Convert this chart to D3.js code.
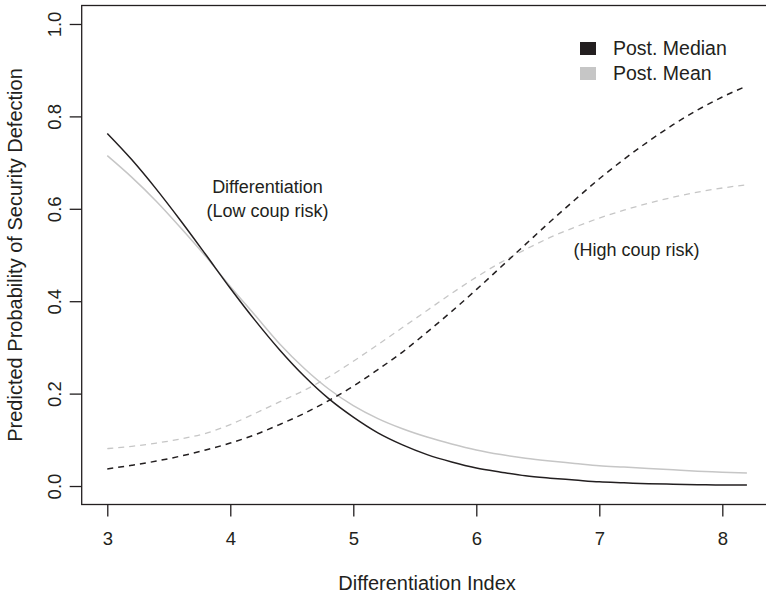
<!DOCTYPE html>
<html>
<head>
<meta charset="utf-8">
<script src="https://cdn.jsdelivr.net/npm/d3@7"></script>
<style>
  html, body { margin: 0; padding: 0; background: #fff; }
  svg { display: block; font-family: "Liberation Sans", Arial, Helvetica, sans-serif; }
</style>
</head>
<body>
<svg id="chart" width="766" height="595"></svg>
<script>
// ---- Data ----
const xValues = [3.0,3.2,3.4,3.6,3.8,4.0,4.2,4.4,4.6,4.8,5.0,5.2,5.4,5.6,5.8,6.0,6.2,6.4,6.6,6.8,7.0,7.2,7.4,7.6,7.8,8.0,8.2];
// Low coup risk, posterior median (solid black)
const lowMedian = [0.763,0.706,0.642,0.573,0.501,0.428,0.359,0.295,0.238,0.189,0.149,0.115,0.089,0.068,0.052,0.039,0.030,0.022,0.017,0.013,0.009,0.007,0.005,0.004,0.003,0.002,0.002];
// Low coup risk, posterior mean (solid gray)
const lowMean = [0.715,0.668,0.616,0.558,0.497,0.432,0.370,0.308,0.255,0.210,0.174,0.146,0.124,0.106,0.091,0.078,0.068,0.060,0.054,0.049,0.044,0.041,0.038,0.035,0.032,0.030,0.028];
// High coup risk, posterior median (dashed black)
const highMedian = [0.037,0.045,0.054,0.065,0.078,0.093,0.111,0.133,0.157,0.185,0.216,0.252,0.290,0.333,0.378,0.425,0.474,0.523,0.572,0.619,0.665,0.707,0.746,0.782,0.814,0.842,0.866];
// High coup risk, posterior mean (dashed gray)
const highMean = [0.081,0.086,0.093,0.102,0.114,0.133,0.157,0.182,0.207,0.236,0.270,0.306,0.343,0.380,0.417,0.452,0.484,0.512,0.538,0.560,0.580,0.597,0.612,0.625,0.636,0.645,0.652];

const xTicks = [3,4,5,6,7,8];
const yTicks = [0,0.2,0.4,0.6,0.8,1.0];
const legendLabels = ["Post. Median","Post. Mean"];
const xTitle = "Differentiation Index";
const yTitle = "Predicted Probability of Security Defection";
const lowLabel = ["Differentiation","(Low coup risk)"];
const highLabel = "(High coup risk)";

// ---- Layout ----
const INK = "#231f20";
const GRAY = "#c6c6c6";
const svg = d3.select("#chart");

const x = d3.scaleLinear().domain([2.792, 8.408]).range([81.7, 772.5]);
const y = d3.scaleLinear().domain([-0.04, 1.04]).range([504.5, 5.5]);

// plot box
svg.append("rect")
  .attr("x", x.range()[0]).attr("y", y.range()[1])
  .attr("width", x.range()[1] - x.range()[0])
  .attr("height", y.range()[0] - y.range()[1])
  .attr("fill", "none").attr("stroke", INK).attr("stroke-width", 1.3);

// x axis
const xAxis = svg.append("g")
  .attr("transform", `translate(0,${y.range()[0]})`)
  .call(d3.axisBottom(x).tickValues(xTicks).tickFormat(d3.format("d")).tickSize(12).tickPadding(15));
xAxis.select(".domain").remove();
xAxis.selectAll("line").attr("stroke", INK).attr("stroke-width", 1.3);
xAxis.selectAll("text").attr("fill", INK).attr("font-size", 18.5).attr("font-family", null);

// y axis (rotated labels)
const yAxis = svg.append("g")
  .attr("transform", `translate(${x.range()[0]},0)`)
  .call(d3.axisLeft(y).tickValues(yTicks).tickFormat(d3.format(".1f")).tickSize(12));
yAxis.select(".domain").remove();
yAxis.selectAll("line").attr("stroke", INK).attr("stroke-width", 1.3);
yAxis.selectAll("text")
  .attr("fill", INK).attr("font-size", 18.5).attr("font-family", null)
  .attr("x", null).attr("dy", null)
  .attr("text-anchor", "middle")
  .attr("transform", "translate(-21,0) rotate(-90)");

// axis titles
svg.append("text")
  .attr("x", (x.range()[0] + x.range()[1]) / 2).attr("y", 590)
  .attr("text-anchor", "middle").attr("font-size", 20).attr("fill", INK)
  .text(xTitle);
svg.append("text")
  .attr("transform", `translate(21.5,${(y.range()[0] + y.range()[1]) / 2}) rotate(-90)`)
  .attr("text-anchor", "middle").attr("font-size", 20).attr("fill", INK)
  .text(yTitle);

// curves
const pts = vals => xValues.map((d, i) => [d, vals[i]]);
const line = d3.line().x(d => x(d[0])).y(d => y(d[1])).curve(d3.curveMonotoneX);
const series = [
  { vals: highMean, color: GRAY, dash: "6,5", w: 1.3 },
  { vals: lowMean, color: GRAY, dash: null, w: 1.5 },
  { vals: highMedian, color: INK, dash: "6,5", w: 1.5 },
  { vals: lowMedian, color: INK, dash: null, w: 1.5 }
];
series.forEach(s => {
  svg.append("path")
    .datum(pts(s.vals))
    .attr("d", line)
    .attr("fill", "none")
    .attr("stroke", s.color)
    .attr("stroke-width", s.w)
    .attr("stroke-dasharray", s.dash);
});

// annotations
svg.append("text").attr("x", 267.5).attr("y", 193)
  .attr("text-anchor", "middle").attr("font-size", 18).attr("fill", INK).text(lowLabel[0]);
svg.append("text").attr("x", 267.5).attr("y", 217)
  .attr("text-anchor", "middle").attr("font-size", 18).attr("fill", INK).text(lowLabel[1]);
svg.append("text").attr("x", 636.5).attr("y", 256)
  .attr("text-anchor", "middle").attr("font-size", 18).attr("fill", INK).text(highLabel);

// legend
const legendColors = [INK, GRAY];
legendLabels.forEach((lab, i) => {
  const cy = 48.5 + i * 25;
  svg.append("rect").attr("x", 580).attr("y", cy - 6.5)
    .attr("width", 16).attr("height", 13).attr("fill", legendColors[i]);
  svg.append("text").attr("x", 613).attr("y", cy + 6.5)
    .attr("font-size", 19.5).attr("fill", INK).text(lab);
});
</script>
</body>
</html>
